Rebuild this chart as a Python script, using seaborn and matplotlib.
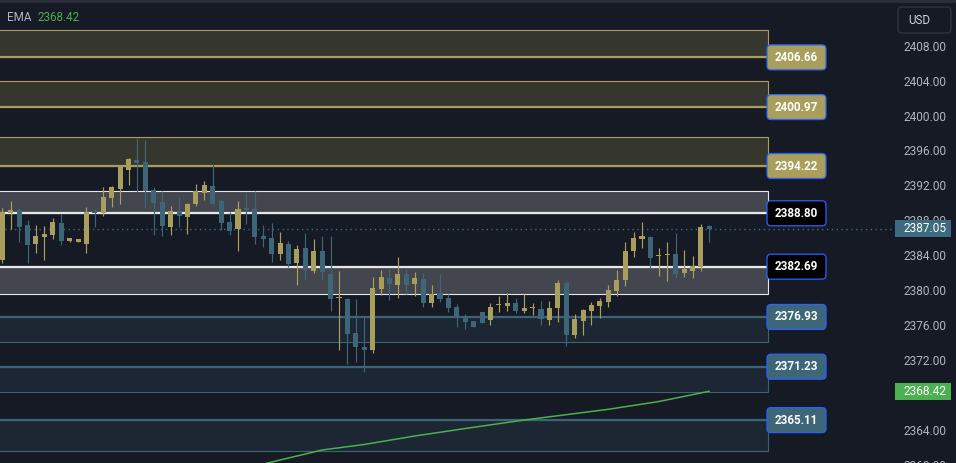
import numpy as np
import pandas as pd
import matplotlib
matplotlib.use("Agg")
import matplotlib.pyplot as plt
import seaborn as sns
from matplotlib.patches import Rectangle, FancyBboxPatch
from matplotlib.transforms import IdentityTransform

# ---------------- data ----------------
opens = [2383.45, 2388.80, 2389.18, 2387.46, 2385.28, 2386.09, 2386.32, 2387.69, 2385.63, 2385.51,
         2385.28, 2388.95, 2388.84, 2390.55, 2391.59, 2393.76, 2394.91, 2394.68, 2391.47, 2390.10,
         2387.23, 2389.07, 2388.38, 2389.87, 2391.13, 2391.93, 2390.21, 2387.80, 2386.97, 2389.41,
         2389.29, 2386.20, 2385.97, 2384.14, 2385.28, 2383.11, 2384.83, 2382.19, 2384.48, 2381.85,
         2379.05, 2378.99, 2375.09, 2373.49, 2373.14, 2380.13, 2381.39, 2380.59, 2381.85, 2380.70,
         2381.28, 2378.53, 2379.67, 2379.10, 2378.07, 2377.04, 2376.47, 2377.50, 2376.58, 2378.25,
         2378.18, 2378.53, 2377.61, 2377.90, 2377.84, 2376.58, 2377.95, 2380.82, 2374.86, 2376.47,
         2377.61, 2378.18, 2378.64, 2379.90, 2381.16, 2384.48, 2385.86, 2386.09, 2383.86, 2383.98,
         2384.14, 2381.96, 2382.19, 2382.65, 2387.40]
highs = [2389.37, 2390.21, 2389.37, 2388.03, 2387.46, 2387.35, 2388.26, 2388.72, 2385.97, 2385.86,
         2389.52, 2389.29, 2391.81, 2391.93, 2394.33, 2395.14, 2397.43, 2397.20, 2391.81, 2391.36,
         2389.64, 2390.67, 2389.98, 2392.16, 2392.50, 2394.45, 2390.44, 2388.95, 2390.21, 2391.13,
         2391.36, 2387.46, 2387.69, 2386.66, 2385.63, 2385.17, 2386.54, 2385.86, 2386.20, 2386.20,
         2382.19, 2379.10, 2378.99, 2376.92, 2381.51, 2382.31, 2382.42, 2383.79, 2382.42, 2382.08,
         2381.96, 2380.59, 2381.85, 2379.56, 2378.41, 2377.27, 2376.47, 2377.50, 2378.53, 2379.33,
         2379.67, 2379.10, 2379.56, 2378.53, 2378.76, 2378.76, 2381.16, 2381.05, 2377.27, 2377.84,
         2378.64, 2379.10, 2380.59, 2382.31, 2385.51, 2386.66, 2387.80, 2386.20, 2384.83, 2385.51,
         2386.54, 2384.60, 2383.91, 2387.57, 2387.46]
lows = [2383.14, 2386.97, 2385.51, 2383.14, 2384.26, 2383.45, 2385.86, 2385.17, 2385.51, 2385.51,
        2384.26, 2387.23, 2388.49, 2389.52, 2389.87, 2392.04, 2391.24, 2389.41, 2386.32, 2386.20,
        2386.32, 2387.23, 2386.43, 2389.64, 2390.33, 2389.87, 2386.89, 2386.32, 2384.48, 2387.57,
        2385.28, 2384.94, 2383.22, 2383.45, 2382.65, 2380.59, 2381.16, 2381.96, 2381.28, 2377.61,
        2373.14, 2371.54, 2371.77, 2370.62, 2372.80, 2379.44, 2378.87, 2379.10, 2379.56, 2379.33,
        2378.07, 2378.07, 2378.64, 2377.50, 2375.78, 2375.55, 2375.78, 2376.24, 2376.00, 2377.50,
        2377.61, 2377.38, 2377.38, 2377.15, 2376.00, 2376.00, 2376.35, 2373.60, 2374.52, 2374.86,
        2376.00, 2376.81, 2378.07, 2379.33, 2380.47, 2383.79, 2384.83, 2382.42, 2381.62, 2381.05,
        2381.39, 2381.51, 2381.39, 2382.19, 2385.51]
closes = [2388.95, 2389.18, 2387.23, 2385.17, 2386.20, 2386.43, 2387.80, 2385.63, 2385.97, 2385.86,
          2388.95, 2388.84, 2390.67, 2391.81, 2394.10, 2395.02, 2394.56, 2391.36, 2389.98, 2387.35,
          2389.07, 2388.49, 2389.87, 2391.36, 2392.04, 2389.87, 2387.69, 2386.77, 2389.29, 2389.18,
          2386.09, 2385.86, 2384.14, 2385.40, 2382.99, 2384.71, 2382.31, 2384.48, 2382.08, 2378.99,
          2379.15, 2374.97, 2373.49, 2373.14, 2380.25, 2381.51, 2380.70, 2381.85, 2380.59, 2381.39,
          2378.53, 2379.56, 2378.99, 2377.95, 2376.92, 2376.35, 2375.78, 2376.24, 2378.07, 2378.35,
          2378.53, 2377.61, 2377.95, 2378.00, 2376.69, 2377.95, 2380.82, 2374.86, 2376.69, 2377.72,
          2378.30, 2378.76, 2380.02, 2381.16, 2384.48, 2385.97, 2386.20, 2383.68, 2383.96, 2384.08,
          2381.85, 2382.42, 2382.76, 2387.23, 2387.05]

ema_idx = [31, 38, 43, 49, 55, 62, 72, 78, 84]
ema_val = [2360.08, 2361.69, 2362.32, 2363.29, 2364.15, 2365.12, 2366.35, 2367.24, 2368.42]

zone_low = [2406.66, 2400.97, 2394.22, 2388.80, 2379.56, 2374.06, 2368.33, 2361.60]
zone_high = [2409.80, 2404.00, 2397.54, 2391.36, 2382.69, 2376.93, 2371.23, 2365.11]
zone_label = [2406.66, 2400.97, 2394.22, 2388.80, 2382.69, 2376.93, 2371.23, 2365.11]
zone_kind = ["gold", "gold", "gold", "white", "white", "teal", "teal", "teal"]

last_price = 2387.05
ema_last = 2368.42
# 2368.00 is fully covered by the EMA price tag in the reference, so it is omitted
tick_values = [2360, 2364, 2372, 2376, 2380, 2384, 2388, 2392, 2396, 2400, 2404, 2408]
currency = "USD"
ema_name = "EMA"

# ---------------- style ----------------
BG = "#161a25"
GOLD = "#a99e5b"
TEAL = "#3e6679"
GREEN = "#4caf50"
BLUE = "#2962ff"
styles = {
    "gold": dict(fill="#35362d", edge="#a99e5b", label="#a99e5b"),
    "white": dict(fill="#44464f", edge="#e6e7ea", label="#000000"),
    "teal": dict(fill="#1c2733", edge="#3b6478", label="#3d6679"),
}

sns.set_theme(style="dark")
plt.rcParams["font.family"] = ["Roboto", "DejaVu Sans"]

W, H = 956, 463
fig = plt.figure(figsize=(W / 100, H / 100), dpi=100)
fig.patch.set_facecolor(BG)
ax = fig.add_axes([0, (H - 470) / H, 893 / W, 466 / H])
ax.set_facecolor(BG)
ax.grid(False)
for s in ax.spines.values():
    s.set_visible(False)

XLIM = (-0.273, 105.82)
YLIM = (2359.397, 2412.777)
ax.set_xlim(*XLIM)
ax.set_ylim(*YLIM)

ax.set_xticks([])
ax.yaxis.tick_right()
ax.set_yticks(tick_values)
ax.set_yticklabels([f"{t:.2f}" for t in tick_values])
ax.tick_params(axis="y", length=0, pad=7.2, labelsize=8.6, labelcolor="#b2b5be")

n = len(opens)
x = np.arange(n)
o = np.array(opens); c = np.array(closes); hi = np.array(highs); lo = np.array(lows)
up = c >= o
cols = np.where(up, GOLD, TEAL)

zone_right = 90.97
x_left = -2

# zones
for zl, zh, lab, kind in zip(zone_low, zone_high, zone_label, zone_kind):
    st = styles[kind]
    ax.add_patch(Rectangle((x_left, zl), zone_right - x_left, zh - zl,
                           facecolor=st["fill"], edgecolor=st["edge"], lw=0.8, zorder=1))
    ax.hlines(lab, x_left, zone_right, color=st["edge"], lw=1.6, zorder=2)

# last price dotted line
ax.axhline(last_price, color="#3d6a80", lw=1.0, ls=(0, (1, 2.5)), zorder=3)

# candles
ax.vlines(x, lo, hi, colors=cols, lw=0.85, zorder=4)
body_bottom = np.minimum(o, c)
body_h = np.maximum(np.abs(c - o), 0.13)
ax.bar(x, body_h, bottom=body_bottom, width=0.6, color=cols, linewidth=0, zorder=5)

# EMA
sns.lineplot(x=ema_idx, y=ema_val, ax=ax, color=GREEN, lw=1.1, zorder=6)
ax.set_xlim(*XLIM)
ax.set_ylim(*YLIM)
ax.set_xlabel(""); ax.set_ylabel("")

fig.canvas.draw()
ident = IdentityTransform()

def disp(xv, yv):
    return ax.transData.transform((xv, yv))

# zone labels (pixel boxes)
for lab, kind in zip(zone_label, zone_kind):
    st = styles[kind]
    _, yd = disp(0, lab)
    bx, bw, bh = 767, 59, 25
    p = FancyBboxPatch((bx, yd - bh / 2), bw, bh, boxstyle="round,pad=0,rounding_size=4",
                       transform=ident, facecolor=st["label"], edgecolor=BLUE, lw=0.9,
                       zorder=8, clip_on=False)
    fig.add_artist(p)
    fig.text((bx + bw / 2) / W, yd / H, f"{lab:.2f}", ha="center", va="center",
             color="white", fontsize=8.4, fontweight="bold", zorder=9)

# right side price tags
for val, fc in [(last_price, "#3e6a7e"), (ema_last, GREEN)]:
    _, yd = disp(0, val)
    r = Rectangle((895, yd - 8.5), 56, 17, transform=ident, facecolor=fc,
                  edgecolor="none", zorder=10)
    fig.add_artist(r)
    fig.text(903 / W, yd / H, f"{val:.2f}", ha="left", va="center", color="white",
             fontsize=8.6, zorder=11)

# top strip
fig.add_artist(Rectangle((0, H - 3), W, 3, transform=ident, facecolor="#2a2e39",
                         edgecolor="none", zorder=12))

# USD box
fig.add_artist(FancyBboxPatch((898, H - 33), 53, 26, boxstyle="round,pad=0,rounding_size=4",
                              transform=ident, facecolor=BG, edgecolor="#2f3340", lw=1.0,
                              zorder=10))
fig.text(908 / W, (H - 20.5) / H, currency, ha="left", va="center", color="#d1d4dc",
         fontsize=8.4, zorder=11)

# legend
fig.text(7 / W, (H - 17.5) / H, ema_name, ha="left", va="center", color="#b2b5be",
         fontsize=8.4, zorder=11)
fig.text(37 / W, (H - 17.5) / H, f"{ema_last:.2f}", ha="left", va="center", color=GREEN,
         fontsize=8.4, zorder=11)

fig.savefig("out.png", dpi=100, facecolor=BG)
